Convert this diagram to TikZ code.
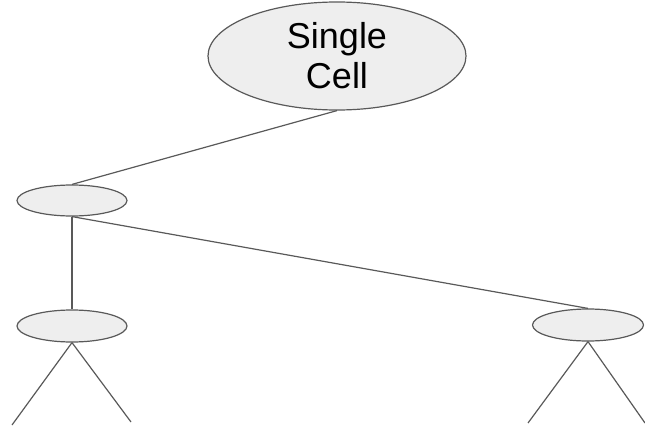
\documentclass[tikz,border=0pt]{standalone}
\usepackage{fontspec}
\setmainfont{Liberation Sans}
\usetikzlibrary{shapes.geometric}
\definecolor{edgegray}{HTML}{595959}
\definecolor{fillgray}{HTML}{EEEEEE}
\begin{document}
\begin{tikzpicture}[x=1pt,y=-1pt,
  cell/.style={ellipse,draw=edgegray,fill=fillgray,line width=1.2pt,inner sep=0pt},
  link/.style={draw=edgegray,line width=1.2pt}]
\useasboundingbox (0,0) rectangle (645,428);
\node[cell,minimum width=258pt,minimum height=108pt,align=center,
  font=\fontsize{36}{40}\selectfont] (root) at (337,56) {Single\\Cell};
\node[cell,minimum width=110pt,minimum height=31pt] (mid) at (72,200.5) {};
\node[cell,minimum width=110pt,minimum height=32pt] (bl) at (72,326) {};
\node[cell,minimum width=111pt,minimum height=32pt] (br) at (588,325) {};
\coordinate (bl1) at (12,425);
\coordinate (bl2) at (131,422);
\coordinate (br1) at (528,423);
\coordinate (br2) at (645,423);
\draw[link] (root.south) -- (mid.north);
\draw[link] (mid.south) -- (bl.north);
\draw[link] (mid.south) -- (br.north);
\draw[link] (bl.south) -- (bl1);
\draw[link] (bl.south) -- (bl2);
\draw[link] (br.south) -- (br1);
\draw[link] (br.south) -- (br2);
\end{tikzpicture}
\end{document}
